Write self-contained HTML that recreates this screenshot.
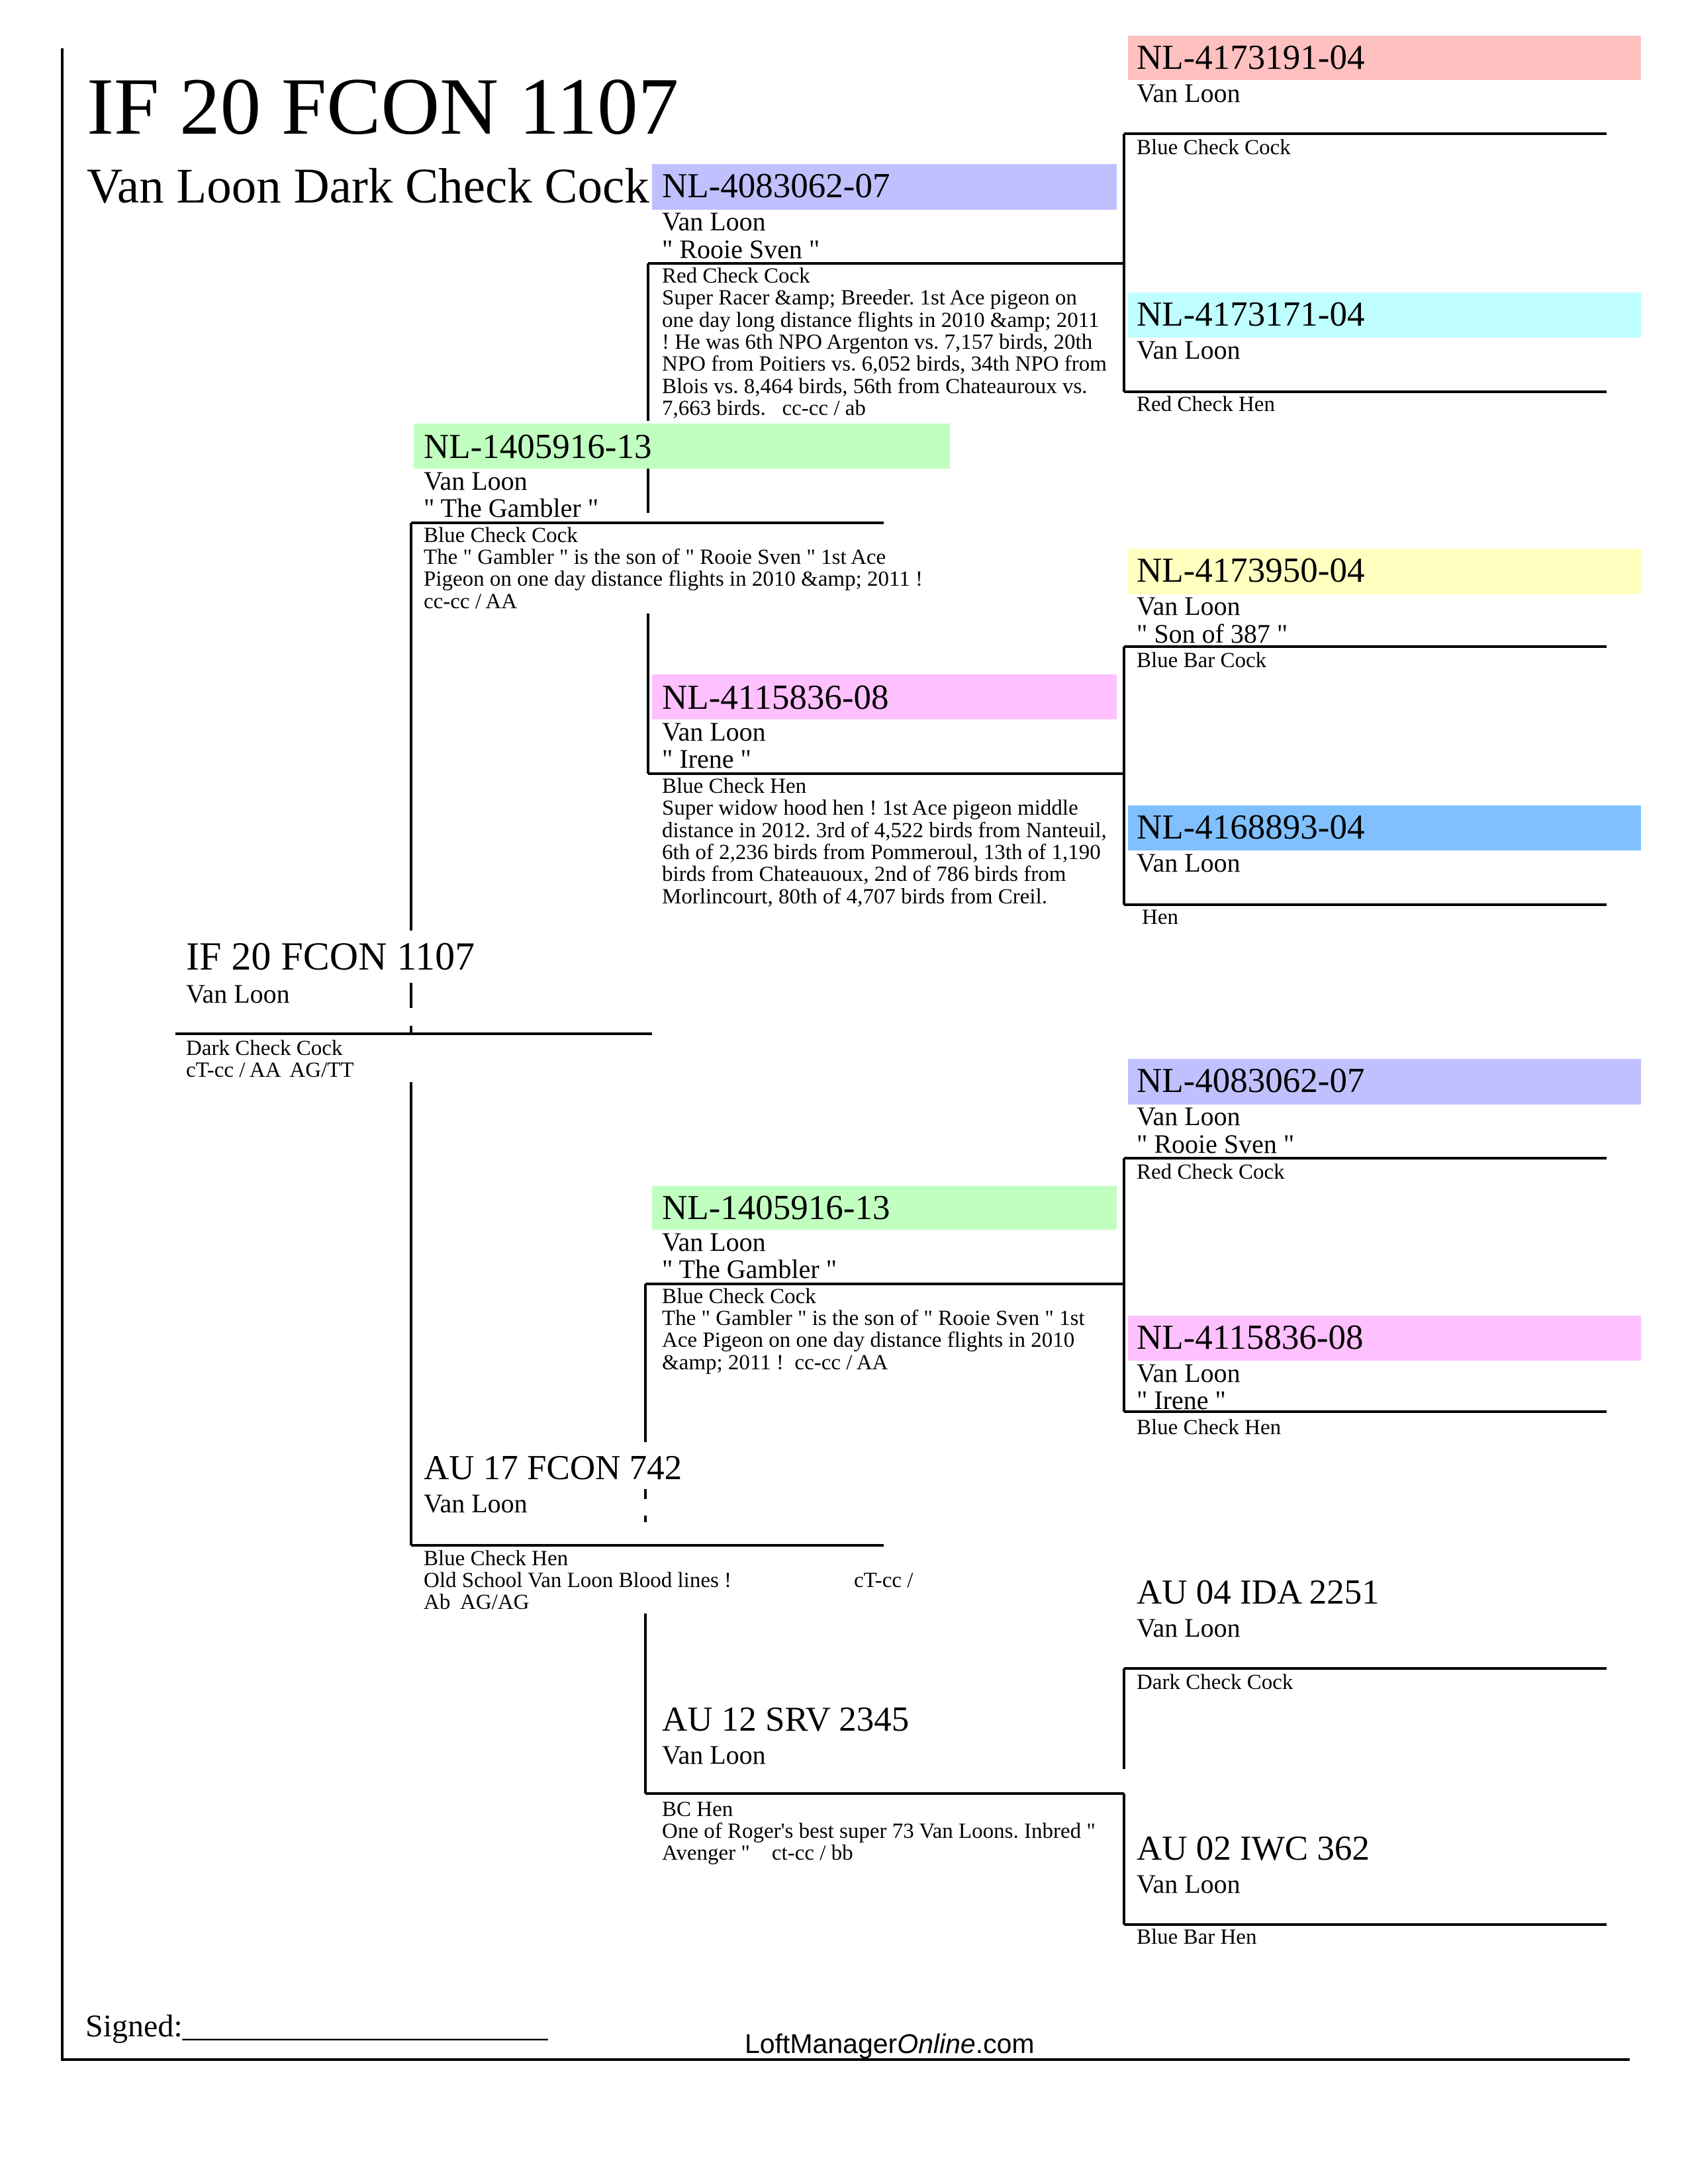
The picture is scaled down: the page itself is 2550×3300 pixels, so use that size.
<!DOCTYPE html>
<html><head><meta charset="utf-8"><style>
html,body{margin:0;padding:0;background:#fff}
svg{display:block}
text{font-family:"Liberation Serif",serif;fill:#000;white-space:pre}
.id{font-size:53px}.vl{font-size:40px}.sm{font-size:33px}
</style></head><body>
<svg width="2550" height="3300" viewBox="0 0 2550 3300" xmlns="http://www.w3.org/2000/svg">
<rect x="1704" y="54" width="775" height="67" fill="#ffc0c0"/>
<rect x="1704" y="442" width="775" height="68" fill="#c0ffff"/>
<rect x="1704" y="829" width="775" height="69" fill="#ffffc0"/>
<rect x="1704" y="1217" width="775" height="68" fill="#80c0ff"/>
<rect x="1704" y="1600" width="775" height="69" fill="#c0c0ff"/>
<rect x="1704" y="1988" width="775" height="68" fill="#ffc0ff"/>
<rect x="985" y="248" width="702" height="69" fill="#c0c0ff"/>
<rect x="985" y="1019" width="702" height="68" fill="#ffc0ff"/>
<rect x="985" y="1792" width="702" height="66" fill="#c0ffc0"/>
<rect x="625" y="640" width="810" height="68" fill="#c0ffc0"/>

<g stroke="#000" stroke-width="4" fill="none">
<line x1="94" y1="73" x2="94" y2="3114"/>
<line x1="92" y1="3112" x2="2462" y2="3112"/>
<line x1="265" y1="1562" x2="985" y2="1562"/>
<line x1="621" y1="790" x2="621" y2="1406"/>
<line x1="621" y1="1635" x2="621" y2="2335"/>
<line x1="621" y1="1485" x2="621" y2="1523"/>
<line x1="621" y1="1550" x2="621" y2="1560"/>
<line x1="621" y1="790" x2="1335" y2="790"/>
<line x1="621" y1="2335" x2="1335" y2="2335"/>
<line x1="979" y1="398" x2="979" y2="636"/>
<line x1="979" y1="708" x2="979" y2="775"/>
<line x1="979" y1="927" x2="979" y2="1169"/>
<line x1="975" y1="1940" x2="975" y2="2179"/>
<line x1="975" y1="2250" x2="975" y2="2265"/>
<line x1="975" y1="2290" x2="975" y2="2300"/>
<line x1="975" y1="2438" x2="975" y2="2710"/>
<line x1="979" y1="398" x2="1698" y2="398"/>
<line x1="979" y1="1169" x2="1698" y2="1169"/>
<line x1="975" y1="1940" x2="1698" y2="1940"/>
<line x1="975" y1="2710" x2="1698" y2="2710"/>
<line x1="1698" y1="202" x2="1698" y2="592"/>
<line x1="1698" y1="977" x2="1698" y2="1367"/>
<line x1="1698" y1="1750" x2="1698" y2="2133"/>
<line x1="1698" y1="2521" x2="1698" y2="2673"/>
<line x1="1698" y1="2710" x2="1698" y2="2908"/>
<line x1="1698" y1="202" x2="2427" y2="202"/>
<line x1="1698" y1="592" x2="2427" y2="592"/>
<line x1="1698" y1="977" x2="2427" y2="977"/>
<line x1="1698" y1="1367" x2="2427" y2="1367"/>
<line x1="1698" y1="1750" x2="2427" y2="1750"/>
<line x1="1698" y1="2133" x2="2427" y2="2133"/>
<line x1="1698" y1="2521" x2="2427" y2="2521"/>
<line x1="1698" y1="2908" x2="2427" y2="2908"/>
</g>

<text x="131" y="202" style="font-size:123px">IF 20 FCON 1107</text>
<text x="131" y="306" style="font-size:75px">Van Loon Dark Check Cock</text>

<text x="281" y="1465" style="font-size:60px">IF 20 FCON 1107</text>
<text x="281" y="1515" class="vl">Van Loon</text>
<text x="281" y="1594" class="sm">Dark Check Cock</text>
<text x="281" y="1627" class="sm">cT-cc / AA  AG/TT</text>

<text x="640" y="692" class="id">NL-1405916-13</text>
<text x="640" y="740" class="vl">Van Loon</text>
<text x="640" y="781" class="vl">" The Gambler "</text>
<text x="640" y="819" class="sm">Blue Check Cock</text>
<text x="640" y="852" class="sm">The " Gambler " is the son of " Rooie Sven " 1st Ace</text>
<text x="640" y="885" class="sm">Pigeon on one day distance flights in 2010 &amp;amp; 2011 !</text>
<text x="640" y="919" class="sm">cc-cc / AA</text>

<text x="640" y="2235" class="id">AU 17 FCON 742</text>
<text x="640" y="2285" class="vl">Van Loon</text>
<text x="640" y="2365" class="sm">Blue Check Hen</text>
<text x="640" y="2398" class="sm">Old School Van Loon Blood lines !</text>
<text x="1290" y="2398" class="sm">cT-cc /</text>
<text x="640" y="2431" class="sm">Ab  AG/AG</text>

<text x="1000" y="298" class="id">NL-4083062-07</text>
<text x="1000" y="348" class="vl">Van Loon</text>
<text x="1000" y="390" class="vl">" Rooie Sven "</text>
<text x="1000" y="427" class="sm">Red Check Cock</text>
<text x="1000" y="460" class="sm">Super Racer &amp;amp; Breeder. 1st Ace pigeon on</text>
<text x="1000" y="494" class="sm">one day long distance flights in 2010 &amp;amp; 2011</text>
<text x="1000" y="527" class="sm">! He was 6th NPO Argenton vs. 7,157 birds, 20th</text>
<text x="1000" y="560" class="sm">NPO from Poitiers vs. 6,052 birds, 34th NPO from</text>
<text x="1000" y="594" class="sm">Blois vs. 8,464 birds, 56th from Chateauroux vs.</text>
<text x="1000" y="627" class="sm">7,663 birds.   cc-cc / ab</text>

<text x="1000" y="1071" class="id">NL-4115836-08</text>
<text x="1000" y="1119" class="vl">Van Loon</text>
<text x="1000" y="1160" class="vl">" Irene "</text>
<text x="1000" y="1198" class="sm">Blue Check Hen</text>
<text x="1000" y="1231" class="sm">Super widow hood hen ! 1st Ace pigeon middle</text>
<text x="1000" y="1265" class="sm">distance in 2012. 3rd of 4,522 birds from Nanteuil,</text>
<text x="1000" y="1298" class="sm">6th of 2,236 birds from Pommeroul, 13th of 1,190</text>
<text x="1000" y="1331" class="sm">birds from Chateauoux, 2nd of 786 birds from</text>
<text x="1000" y="1365" class="sm">Morlincourt, 80th of 4,707 birds from Creil.</text>

<text x="1000" y="1842" class="id">NL-1405916-13</text>
<text x="1000" y="1890" class="vl">Van Loon</text>
<text x="1000" y="1931" class="vl">" The Gambler "</text>
<text x="1000" y="1969" class="sm">Blue Check Cock</text>
<text x="1000" y="2002" class="sm">The " Gambler " is the son of " Rooie Sven " 1st</text>
<text x="1000" y="2035" class="sm">Ace Pigeon on one day distance flights in 2010</text>
<text x="1000" y="2069" class="sm">&amp;amp; 2011 !  cc-cc / AA</text>

<text x="1000" y="2615" class="id">AU 12 SRV 2345</text>
<text x="1000" y="2665" class="vl">Van Loon</text>
<text x="1000" y="2744" class="sm">BC Hen</text>
<text x="1000" y="2777" class="sm">One of Roger's best super 73 Van Loons. Inbred "</text>
<text x="1000" y="2810" class="sm">Avenger "    ct-cc / bb</text>

<text x="1717" y="104" class="id">NL-4173191-04</text>
<text x="1717" y="154" class="vl">Van Loon</text>
<text x="1717" y="233" class="sm">Blue Check Cock</text>

<text x="1717" y="492" class="id">NL-4173171-04</text>
<text x="1717" y="542" class="vl">Van Loon</text>
<text x="1717" y="621" class="sm">Red Check Hen</text>

<text x="1717" y="879" class="id">NL-4173950-04</text>
<text x="1717" y="929" class="vl">Van Loon</text>
<text x="1717" y="971" class="vl">" Son of 387 "</text>
<text x="1717" y="1008" class="sm">Blue Bar Cock</text>

<text x="1717" y="1267" class="id">NL-4168893-04</text>
<text x="1717" y="1317" class="vl">Van Loon</text>
<text x="1725" y="1396" class="sm">Hen</text>

<text x="1717" y="1650" class="id">NL-4083062-07</text>
<text x="1717" y="1700" class="vl">Van Loon</text>
<text x="1717" y="1742" class="vl">" Rooie Sven "</text>
<text x="1717" y="1781" class="sm">Red Check Cock</text>

<text x="1717" y="2038" class="id">NL-4115836-08</text>
<text x="1717" y="2088" class="vl">Van Loon</text>
<text x="1717" y="2129" class="vl">" Irene "</text>
<text x="1717" y="2167" class="sm">Blue Check Hen</text>

<text x="1717" y="2423" class="id">AU 04 IDA 2251</text>
<text x="1717" y="2473" class="vl">Van Loon</text>
<text x="1717" y="2552" class="sm">Dark Check Cock</text>

<text x="1717" y="2810" class="id">AU 02 IWC 362</text>
<text x="1717" y="2860" class="vl">Van Loon</text>
<text x="1717" y="2937" class="sm">Blue Bar Hen</text>

<text x="129" y="3077" style="font-size:48px">Signed:_______________________</text>
<text x="1125" y="3102" style="font-size:41px;font-family:'Liberation Sans',sans-serif">LoftManager<tspan style="font-style:italic">Online</tspan>.com</text>
</svg>
</body></html>
